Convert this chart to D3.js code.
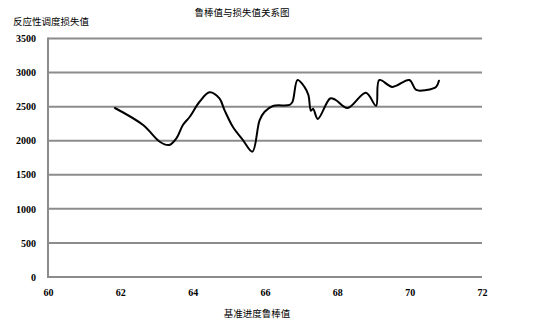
<!DOCTYPE html>
<html>
<head>
<meta charset="utf-8">
<script src="https://cdn.jsdelivr.net/npm/d3@7.9.0/dist/d3.min.js"></script>
<style>
  body { margin: 0; background: #fff; }
  #chart { width: 535px; height: 323px; }
  text { font-family: "Liberation Serif", "Noto Sans CJK SC", serif; fill: #000; }
  .cjk { font-family: "Noto Sans CJK SC", sans-serif; }
</style>
</head>
<body>
<div id="chart"></div>
<script>
// Robustness value (x) vs. reactive scheduling loss (y)
const robustX = [
  61.85, 62.63, 63.09, 63.35, 63.55, 63.73, 63.92, 64.19, 64.47, 64.74,
  64.88, 65.11, 65.39, 65.65, 65.85, 65.99, 66.22, 66.68, 66.76, 66.9,
  67.09, 67.2, 67.27, 67.33, 67.46, 67.8, 67.95, 68.28, 68.79, 69.07,
  69.16, 69.52, 69.99, 70.18, 70.46, 70.73, 70.81,
];
const lossY = [
  2480, 2230, 1985, 1937, 2035, 2230, 2352, 2572, 2710, 2620,
  2450, 2205, 2010, 1840, 2300, 2425, 2510, 2525, 2570, 2890,
  2790, 2670, 2440, 2470, 2320, 2620, 2600, 2480, 2705, 2514,
  2891, 2790, 2890, 2745, 2745, 2790, 2880,
];

const xTicks = [60, 62, 64, 66, 68, 70, 72];
const yTicks = [0, 500, 1000, 1500, 2000, 2500, 3000, 3500];

const title = '鲁棒值与损失值关系图';
const yTitle = '反应性调度损失值';
const xTitle = '基准进度鲁棒值';

const data = robustX.map((x, i) => ({ x, y: lossY[i] }));

const width = 535;
const height = 323;
const margin = { top: 38.5, right: 53, bottom: 46, left: 48 };
const innerW = width - margin.left - margin.right;
const innerH = height - margin.top - margin.bottom;

const svg = d3.select('#chart')
  .append('svg')
  .attr('width', width)
  .attr('height', height);

const g = svg.append('g')
  .attr('transform', `translate(${margin.left},${margin.top})`);

const xScale = d3.scaleLinear().domain([60, 72]).range([0, innerW]);
const yScale = d3.scaleLinear().domain([0, 3500]).range([innerH, 0]);

const gridColor = '#8c8c8c';

// horizontal gridlines
g.append('g')
  .selectAll('line')
  .data(yTicks)
  .enter()
  .append('line')
  .attr('x1', 0)
  .attr('x2', innerW)
  .attr('y1', (d) => yScale(d))
  .attr('y2', (d) => yScale(d))
  .attr('stroke', gridColor)
  .attr('stroke-width', 2);

// left axis line
g.append('line')
  .attr('x1', 0).attr('x2', 0)
  .attr('y1', yScale(3500) - 1).attr('y2', yScale(0) + 1)
  .attr('stroke', gridColor)
  .attr('stroke-width', 2);

// y tick labels
const yAxis = g.append('g')
  .call(d3.axisLeft(yScale).tickValues(yTicks).tickSize(0).tickPadding(12).tickFormat(d3.format('d')));
yAxis.select('.domain').remove();
yAxis.selectAll('text')
  .style('font-family', '"Liberation Serif", serif')
  .style('font-size', '10px')
  .style('font-weight', 'bold')
  .attr('fill', '#000');

// x tick labels
const xAxis = g.append('g')
  .attr('transform', `translate(0,${innerH})`)
  .call(d3.axisBottom(xScale).tickValues(xTicks).tickSize(0).tickPadding(12).tickFormat(d3.format('d')));
xAxis.select('.domain').remove();
xAxis.selectAll('text')
  .style('font-family', '"Liberation Serif", serif')
  .style('font-size', '10px')
  .style('font-weight', 'bold')
  .attr('fill', '#000');

// the curve
const line = d3.line()
  .x((d) => xScale(d.x))
  .y((d) => yScale(d.y))
  .curve(d3.curveCatmullRom.alpha(0.5));

g.append('path')
  .datum(data)
  .attr('d', line)
  .attr('fill', 'none')
  .attr('stroke', '#000')
  .attr('stroke-width', 2)
  .attr('stroke-linejoin', 'round')
  .attr('stroke-linecap', 'round');

// titles
svg.append('text')
  .attr('class', 'cjk')
  .attr('x', 242)
  .attr('y', 16)
  .attr('text-anchor', 'middle')
  .style('font-size', '9.5px')
  .text(title);

svg.append('text')
  .attr('class', 'cjk')
  .attr('x', 13)
  .attr('y', 25)
  .style('font-size', '9.5px')
  .text(yTitle);

svg.append('text')
  .attr('class', 'cjk')
  .attr('x', 257)
  .attr('y', 317)
  .attr('text-anchor', 'middle')
  .style('font-size', '9.5px')
  .text(xTitle);
</script>
</body>
</html>
